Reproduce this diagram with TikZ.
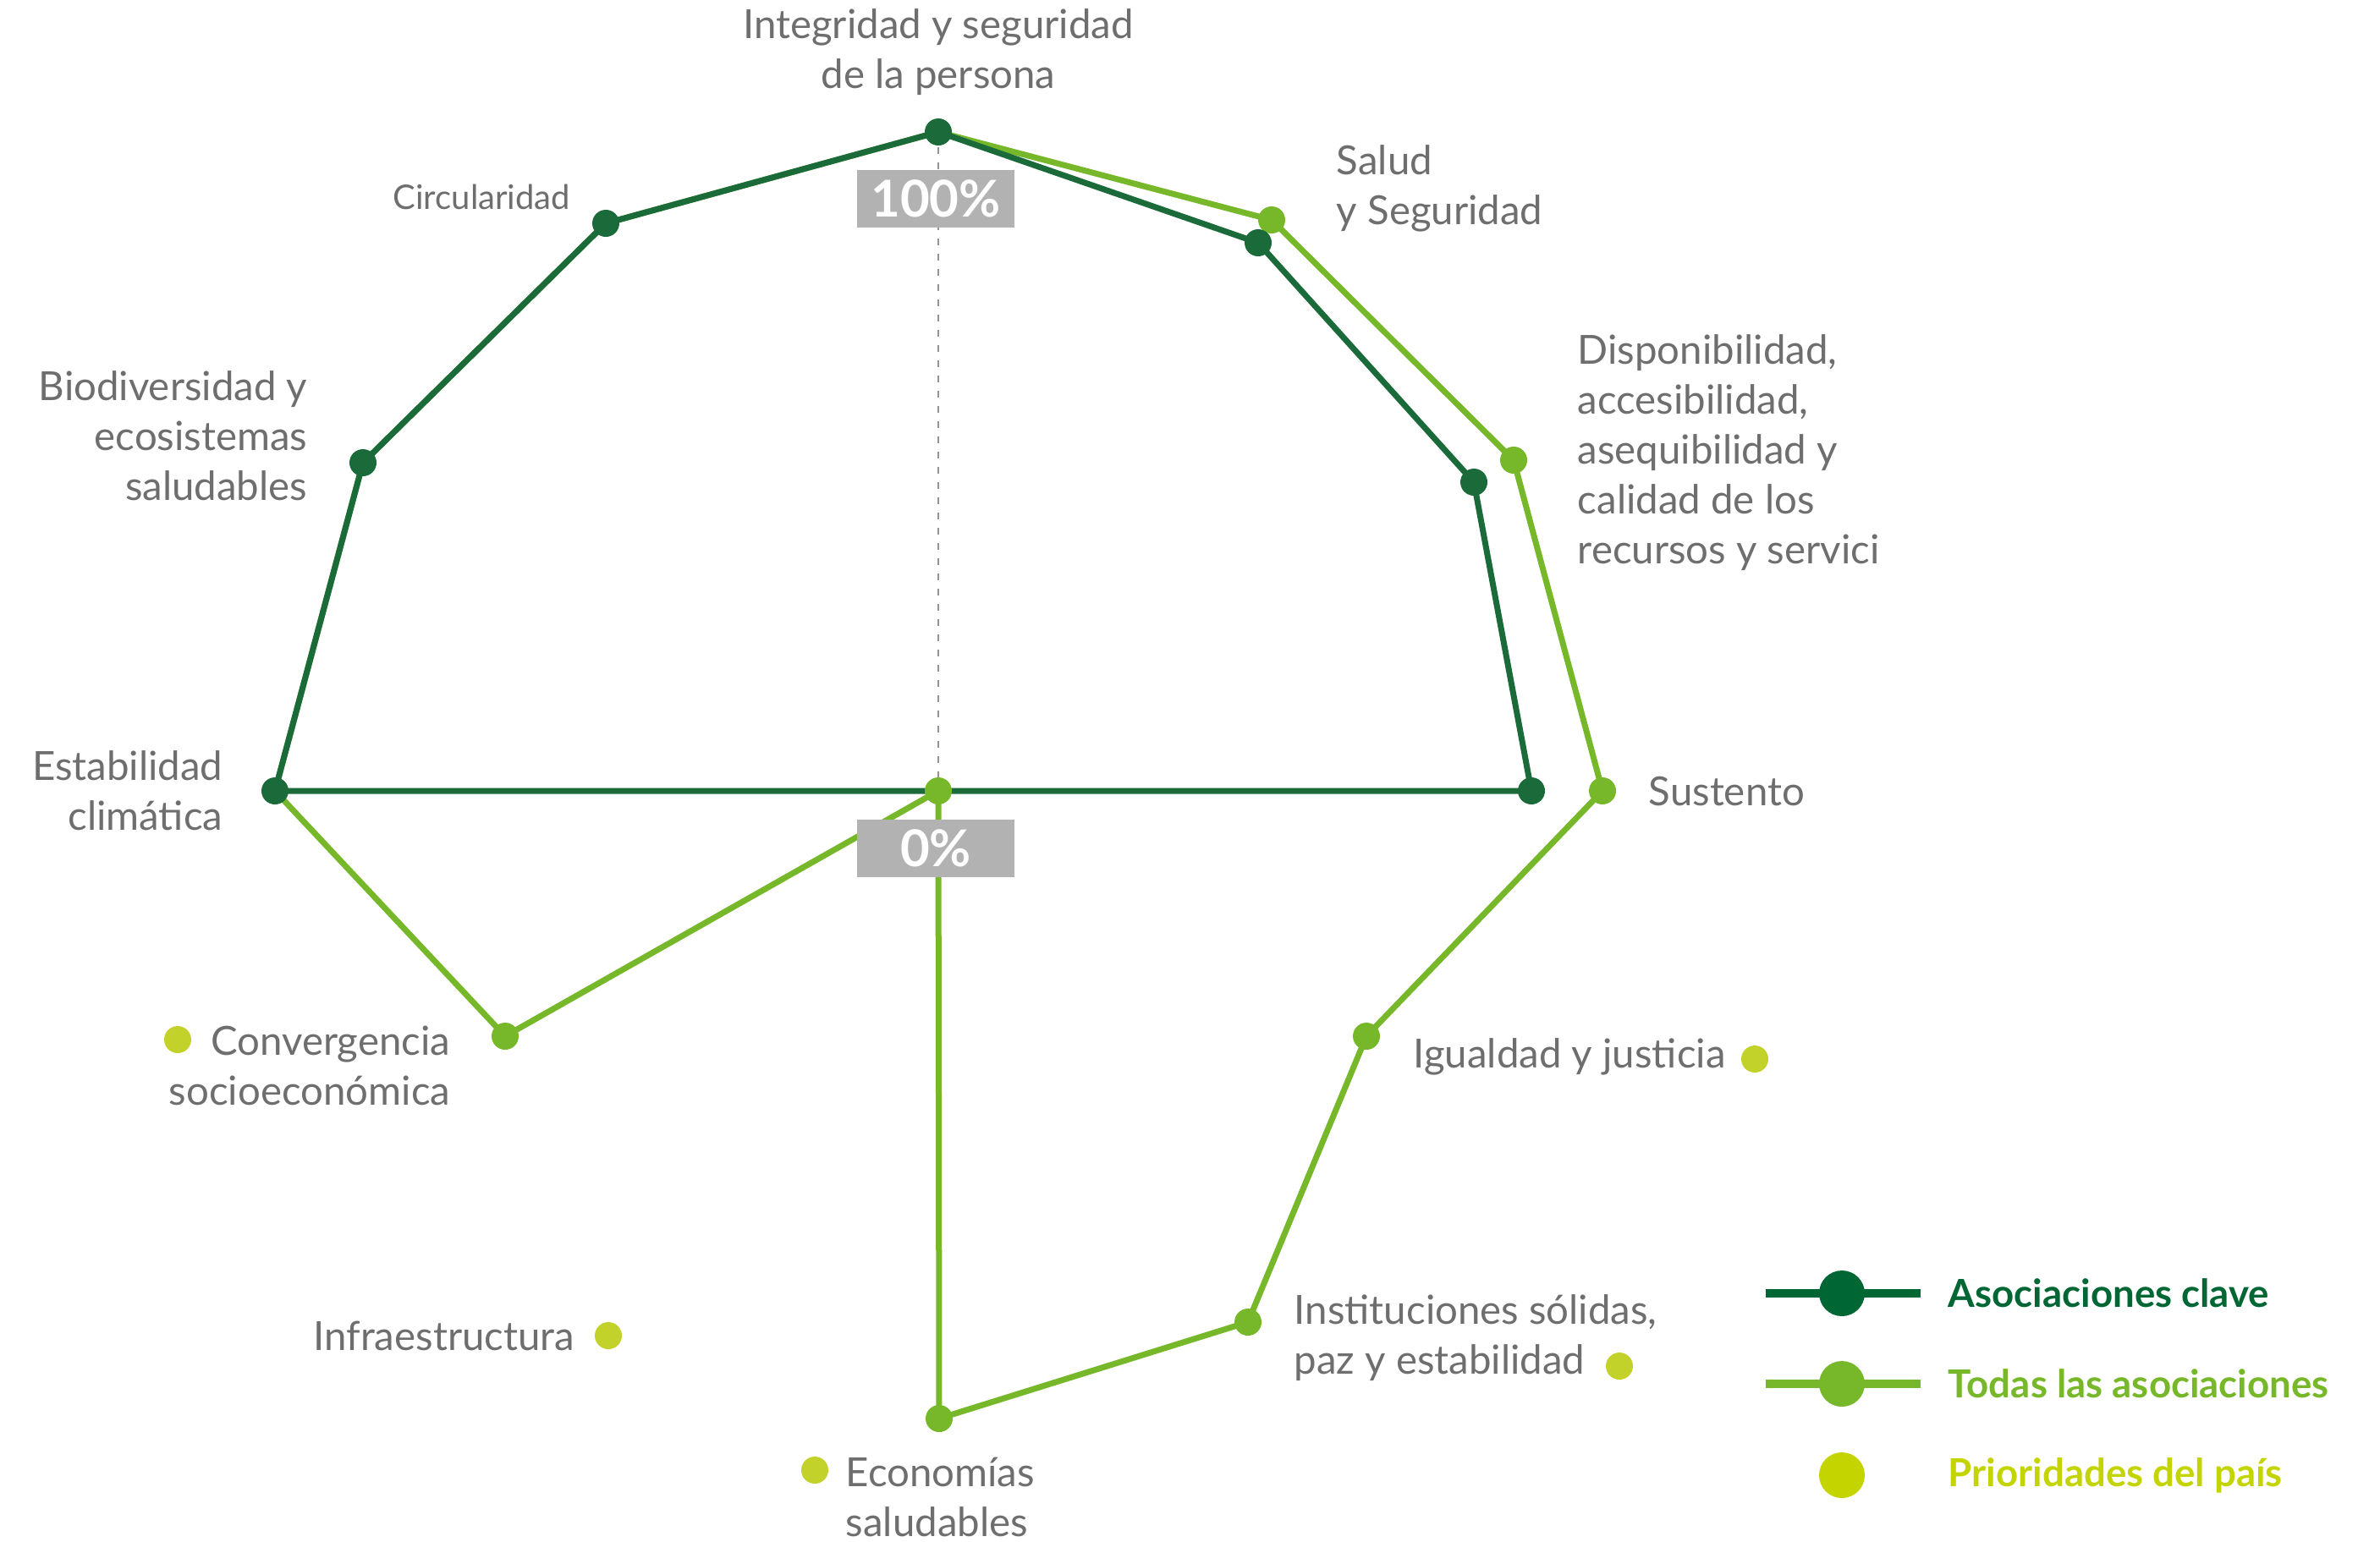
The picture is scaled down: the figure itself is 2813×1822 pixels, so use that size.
\documentclass[tikz,border=0pt]{standalone}
\usepackage{fontspec}
\setmainfont{Lato}
\definecolor{dkgreen}{HTML}{1B6B3A}
\definecolor{lggreen}{HTML}{76B82A}
\definecolor{prio}{HTML}{C3D22A}
\definecolor{legdark}{HTML}{006633}
\definecolor{legprio}{HTML}{C3D400}
\definecolor{lbl}{HTML}{6E6E6E}
\definecolor{boxgray}{HTML}{B2B2B2}
\tikzset{
  lbl/.style={text=lbl, font=\fontsize{11.85}{14.75}\selectfont, inner sep=0pt},
  darkline/.style={draw=dkgreen, line width=1.75pt, line join=round},
  lightline/.style={draw=lggreen, line width=1.75pt, line join=round},
  darkdot/.style={circle, fill=dkgreen, minimum size=8pt, inner sep=0pt},
  lightdot/.style={circle, fill=lggreen, minimum size=8pt, inner sep=0pt},
  priodot/.style={circle, fill=prio, minimum size=8pt, inner sep=0pt},
  pctbox/.style={fill=boxgray, text=white, font=\fontsize{15}{18}\selectfont\bfseries, minimum width=46.5pt, minimum height=17pt, inner sep=0pt},
  legtext/.style={font=\fontsize{11.4}{14}\selectfont\bfseries, anchor=west, inner sep=0pt}
}
\begin{document}
\begin{tikzpicture}[x=0.25pt,y=-0.25pt]
\useasboundingbox (0,0) rectangle (2813,1822);
% value points
\coordinate (c) at (1109,935);
\coordinate (dInt) at (1109,156);
\coordinate (dCir) at (716,264);
\coordinate (dBio) at (429,547);
\coordinate (dEst) at (325,935);
\coordinate (dSal) at (1487,287);
\coordinate (dDis) at (1742,570);
\coordinate (dSus) at (1810,935);
\coordinate (lSal) at (1503,260);
\coordinate (lDis) at (1789,544);
\coordinate (lSus) at (1894,935);
\coordinate (lIgu) at (1615,1225);
\coordinate (lIns) at (1475,1563);
\coordinate (lEco) at (1110,1677);
\coordinate (lCon) at (597,1225);
% dashed axis
\draw[draw=gray!85, line width=0.5pt, dash pattern=on 2pt off 2.5pt] (dInt) -- (c);
% light series
\draw[lightline] (dInt) -- (dCir) -- (dBio) -- (dEst) -- (lCon) -- (c) -- (lEco) -- (lIns) -- (lIgu) -- (lSus) -- (lDis) -- (lSal) -- cycle;
% dark series
\draw[darkline] (dInt) -- (dCir) -- (dBio) -- (dEst) -- (c) -- (dSus) -- (dDis) -- (dSal) -- cycle;
% dots
\foreach \p in {lSal,lDis,lSus,lIgu,lIns,lEco,lCon} \node[lightdot] at (\p) {};
\foreach \p in {dInt,dCir,dBio,dEst,dSal,dDis,dSus} \node[darkdot] at (\p) {};
\node[lightdot] (cdot) at (c) {};
% percentage boxes
\node[pctbox] (p100) at (1106,235) {100\%};
\node[pctbox] (p0) at (1106,1003) {0\%};
% labels
\node[lbl, align=center] (tInt) at (1109,62) {Integridad y seguridad\\de la persona};
\node[lbl, align=left, anchor=west] (tSal) at (1579,223) {Salud\\y Seguridad};
\node[lbl, align=left, anchor=west] (tDis) at (1864,535) {Disponibilidad,\\accesibilidad,\\asequibilidad y\\calidad de los\\recursos y servici};
\node[lbl, anchor=west] (tSus) at (1948,935) {Sustento};
\node[lbl, anchor=west] (tIgu) at (1670,1249) {Igualdad y justicia};
\node[lbl, align=left, anchor=west] (tIns) at (1529,1582) {Instituciones sólidas,\\paz y estabilidad};
\node[lbl, align=left, anchor=west] (tEco) at (999,1770) {Economías\\saludables};
\node[lbl, anchor=east] (tInf) at (680,1579) {Infraestructura};
\node[lbl, align=right, anchor=east] (tCon) at (533,1260) {Convergencia\\socioeconómica};
\node[lbl, align=right, anchor=east] (tEst) at (264,935) {Estabilidad\\climática};
\node[lbl, align=right, anchor=east] (tBio) at (364,515) {Biodiversidad y\\ecosistemas\\saludables};
\node[lbl, anchor=east, font=\fontsize{10}{12}\selectfont] (tCir) at (675,233) {Circularidad};
% priority dots
\node[priodot] (pCon) at (210,1229) {};
\node[priodot] (pIgu) at (2074,1252) {};
\node[priodot] (pIns) at (1914,1615) {};
\node[priodot] (pInf) at (719,1579) {};
\node[priodot] (pEco) at (963,1738) {};
% legend
\coordinate (la1) at (2087,1529); \coordinate (lb1) at (2270,1529);
\coordinate (la2) at (2087,1636); \coordinate (lb2) at (2270,1636);
\draw[draw=legdark, line width=2.5pt] (la1) -- (lb1);
\draw[draw=lggreen, line width=2.5pt] (la2) -- (lb2);
\node[circle, fill=legdark, minimum size=13.5pt, inner sep=0pt] (ld1) at (2177,1529) {};
\node[circle, fill=lggreen, minimum size=13.5pt, inner sep=0pt] (ld2) at (2177,1636) {};
\node[circle, fill=legprio, minimum size=13.5pt, inner sep=0pt] (ld3) at (2177,1744) {};
\node[legtext, text=legdark] (lt1) at (2302,1529) {Asociaciones clave};
\node[legtext, text=lggreen] (lt2) at (2302,1636) {Todas las asociaciones};
\node[legtext, text=legprio] (lt3) at (2302,1744) {Prioridades del país};
\end{tikzpicture}
\end{document}
